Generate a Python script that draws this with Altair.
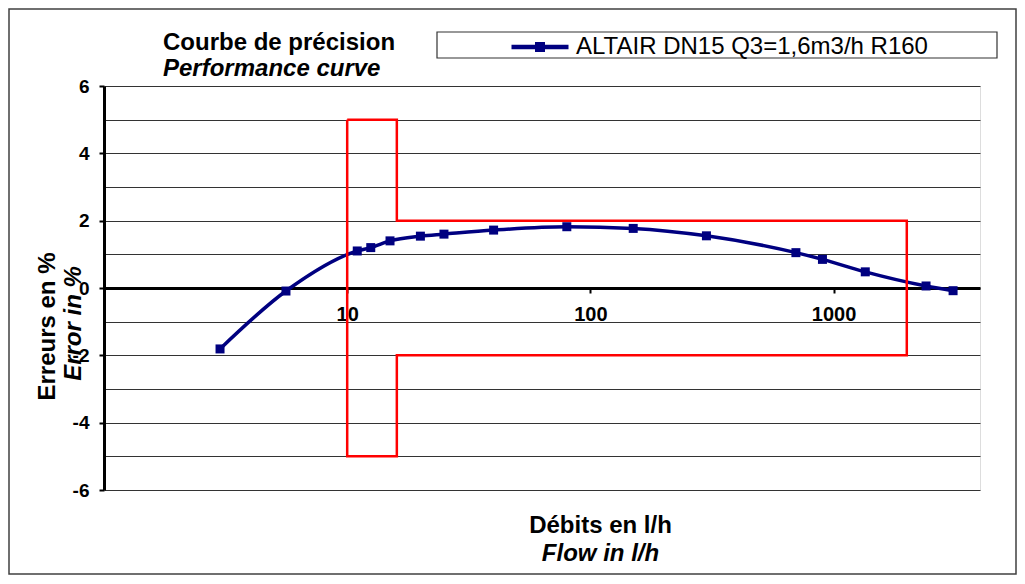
import altair as alt
import pandas as pd

# ---- data ----
flow = [3, 5.6, 11, 12.5, 15, 20, 25, 40, 80, 150, 300, 700, 900, 1350, 2400, 3100]
error = [-1.81, -0.09, 1.10, 1.20, 1.40, 1.54, 1.60, 1.72, 1.82, 1.77, 1.55, 1.05, 0.85, 0.48, 0.06, -0.08]
series_name = "ALTAIR DN15 Q3=1,6m3/h R160"

# tolerance envelope (MPE): +-5 % between Q1 and Q2, +-2 % between Q2 and Q4
env_flow = [10, 16, 16, 2000, 2000, 16, 16, 10, 10]
env_error = [5, 5, 2, 2, -2, -2, -5, -5, 5]

y_grid_values = [-6, -5, -4, -3, -2, -1, 0, 1, 2, 3, 4, 5, 6]
y_label_values = [-6, -4, -2, 0, 2, 4, 6]
x_label_values = [10, 100, 1000]
x_domain = [1, 4000]
y_domain = [-6, 6]

df = pd.DataFrame({"flow": flow, "error": error, "series": [series_name] * len(flow)})
env_df = pd.DataFrame({"flow": env_flow, "error": env_error, "idx": list(range(len(env_flow)))})

FONT = "Liberation Sans"
W, H = 876, 404

xscale = alt.Scale(type="log", domain=x_domain, nice=False)
yscale = alt.Scale(domain=y_domain, nice=False, zero=False)

line = alt.Chart(df).mark_line(color="#000080", strokeWidth=3.5, interpolate="monotone").encode(
    x=alt.X("flow:Q", scale=xscale, axis=alt.Axis(
        values=x_label_values, format="d", offset=-H / 2, grid=False,
        domainColor="black", domainWidth=3, tickColor="black", tickSize=5, tickWidth=2,
        labelFont=FONT, labelFontSize=20, labelFontWeight="bold", labelColor="black", labelPadding=11,
        title="Débits en l/h", titleFont=FONT, titleFontSize=24, titleFontWeight="bold",
        titleColor="black", titleX=496, titleY=237, titleBaseline="middle", titleAlign="center")),
    y=alt.Y("error:Q", scale=yscale, axis=alt.Axis(
        values=y_grid_values, labels=False, ticks=False, grid=True, gridColor="#333333", gridWidth=1,
        domainColor="black", domainWidth=3,
        title="Error in %", titleFont=FONT, titleFontSize=24, titleFontWeight="bold", titleFontStyle="italic",
        titleColor="black", titleAngle=270, titleX=-31, titleY=237, titleBaseline="middle", titleAlign="center")),
)

env = alt.Chart(env_df).mark_line(color="#FF0000", strokeWidth=2.5).encode(
    x=alt.X("flow:Q", scale=xscale, axis=None),
    y=alt.Y("error:Q", scale=yscale, axis=None),
    order="idx:O",
)

SYMBOL = "M-2.85,-0.23H2.85V0.23H-2.85Z M-0.5,-0.5H0.5V0.5H-0.5Z"

pts = alt.Chart(df).mark_point(shape="square", filled=True, size=81, opacity=1).encode(
    x=alt.X("flow:Q", scale=xscale, axis=alt.Axis(
        orient="bottom", domain=False, labels=False, ticks=False, grid=False,
        title="Flow in l/h", titleFont=FONT, titleFontSize=24, titleFontWeight="bold", titleFontStyle="italic",
        titleColor="black", titleX=496, titleY=63, titleBaseline="middle", titleAlign="center")),
    y=alt.Y("error:Q", scale=yscale, axis=alt.Axis(
        orient="left", values=y_label_values, domain=False, grid=False,
        ticks=True, tickColor="black", tickSize=5, tickWidth=2,
        labelExpr="datum.value < 0 ? '-' + abs(datum.value) : '' + datum.value",
        labelFont=FONT, labelFontSize=19, labelFontWeight="bold", labelColor="black", labelPadding=10,
        title="Erreurs en %", titleFont=FONT, titleFontSize=24, titleFontWeight="bold",
        titleColor="black", titleAngle=270, titleX=-57, titleY=240, titleBaseline="middle", titleAlign="center")),
    color=alt.Color("series:N", scale=alt.Scale(range=["#000080"]), legend=alt.Legend(
        orient="none", legendX=333, legendY=-54, title=None, padding=3,
        symbolType=SYMBOL, symbolSize=400, symbolStrokeWidth=0, symbolOffset=88, symbolOpacity=1,
        labelOffset=24, labelFont=FONT, labelFontSize=24, labelColor="black", labelLimit=700)),
)

# decorative frames: outer chart border and the legend box
frame = alt.Chart(pd.DataFrame({"a": [0]})).mark_rect(fillOpacity=0, stroke="#404040", strokeWidth=1.5).encode(
    x=alt.value(-95), x2=alt.value(912), y=alt.value(-77), y2=alt.value(488)
)
legend_box = alt.Chart(pd.DataFrame({"a": [0]})).mark_rect(fill="white", stroke="#333333", strokeWidth=1.2).encode(
    x=alt.value(333), x2=alt.value(893), y=alt.value(-54), y2=alt.value(-28)
)

chart = alt.layer(line, env, pts, frame, legend_box).resolve_axis(x="independent", y="independent").properties(
    width=W, height=H,
    autosize=alt.AutoSizeParams(type="none"),
    padding={"left": 96, "top": 78, "right": 37, "bottom": 86},
    title=alt.Title("Courbe de précision", subtitle="Performance curve", anchor="start", frame="group",
                    dx=59, dy=79, offset=6, font=FONT, fontSize=24, fontWeight="bold", color="black",
                    subtitleFont=FONT, subtitleFontSize=24, subtitleFontWeight="bold",
                    subtitleFontStyle="italic", subtitleColor="black", subtitlePadding=2),
).configure_view(stroke="#888888", strokeWidth=1).configure(background="white")

chart.save("out.html", embed_options={"renderer": "svg", "actions": False})
